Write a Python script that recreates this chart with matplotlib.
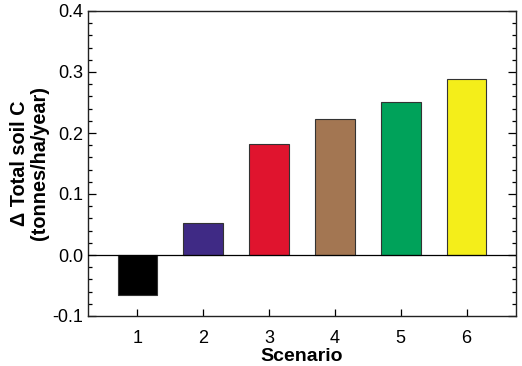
import matplotlib
matplotlib.use("Agg")
import matplotlib.pyplot as plt
from matplotlib.ticker import MultipleLocator

plt.rcParams['font.family'] = ['Liberation Sans', 'DejaVu Sans']

scenarios = [1, 2, 3, 4, 5, 6]
values = [-0.065, 0.052, 0.182, 0.223, 0.251, 0.289]
colors = ['#000000', '#3f2a85', '#e0142e', '#a37652', '#00a25a', '#f4ee1a']

fig = plt.figure(figsize=(5.22, 3.66), dpi=100)
ax = fig.add_axes([88/522, 1-316/366, (516-88)/522, (316-11)/366])
ax.bar(scenarios, values, width=0.6, color=colors, edgecolor='#333333', linewidth=0.8, zorder=2)
ax.axhline(0, color='black', linewidth=0.9, zorder=3)
ax.set_xlim(0.25, 6.75)
ax.set_ylim(-0.1, 0.4)
ax.set_xticks(scenarios)
ax.yaxis.set_major_locator(MultipleLocator(0.1))
ax.yaxis.set_minor_locator(MultipleLocator(0.02))
ax.set_yticklabels([f"{v:.1f}" for v in ax.get_yticks()])
ax.tick_params(axis='y', which='both', direction='in', right=True, labelsize=13, width=0.9)
ax.tick_params(axis='y', which='major', length=6)
ax.tick_params(axis='y', which='minor', length=3)
ax.tick_params(axis='x', direction='in', length=5, labelsize=13, width=0.9, pad=10)
for s in ax.spines.values():
    s.set_linewidth(1.0)
    s.set_color('#222222')
ax.set_xlabel('Scenario', fontsize=14, fontweight='bold', labelpad=1)
ax.set_ylabel('Δ Total soil C\n(tonnes/ha/year)', fontsize=14.3, fontweight='bold', labelpad=2, linespacing=1.1)
fig.savefig('out.png', dpi=100)
